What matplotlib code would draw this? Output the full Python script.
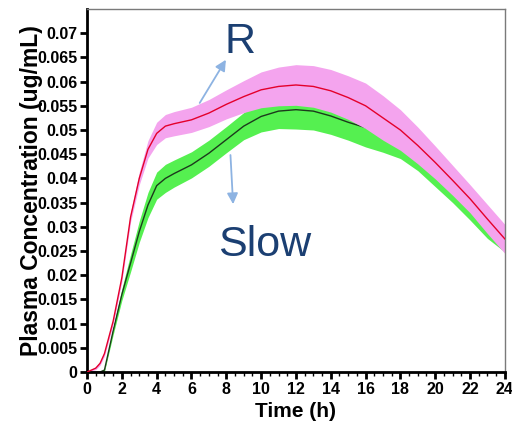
import numpy as np
import matplotlib.pyplot as plt
from matplotlib.ticker import MultipleLocator

# Mean plasma concentration (ug/mL) and band half-width
time_h = [0, 0.5, 0.75, 1, 1.5, 2, 2.5, 3, 3.5, 4, 4.5, 5, 6, 7, 8, 9, 10, 11,
          12, 13, 14, 15, 16, 17, 18, 19, 20, 21, 22, 23, 24]

r_mean = [0, 0.0008, 0.0018, 0.0038, 0.0105, 0.0195, 0.032, 0.040, 0.046, 0.0493,
          0.0508, 0.0513, 0.0521, 0.0535, 0.0553, 0.0569, 0.0583, 0.0590, 0.0593,
          0.0590, 0.0581, 0.0567, 0.0550, 0.0525, 0.0500, 0.0468, 0.0433, 0.0396,
          0.0358, 0.0316, 0.0275]
r_sd = [0, 0.0003, 0.0004, 0.0005, 0.0007, 0.0008, 0.0010, 0.0013, 0.0018, 0.0023,
        0.0024, 0.0025, 0.0026, 0.0028, 0.0030, 0.0033, 0.0037, 0.0040, 0.0042,
        0.0043, 0.0044, 0.0045, 0.0047, 0.0046, 0.0042, 0.0038, 0.0034, 0.0031,
        0.0029, 0.0030, 0.0030]

slow_mean = [0, 0, 0, 0.0004, 0.0085, 0.016, 0.0225, 0.029, 0.0345, 0.0385,
             0.0400, 0.0410, 0.0428, 0.0452, 0.0480, 0.0508, 0.0528, 0.0539, 0.0542,
             0.0539, 0.0529, 0.0516, 0.0505, 0.0494, 0.0476, 0.0451, 0.0418, 0.0382,
             0.0343, 0.0302, 0.0270]
slow_sd = [0, 0, 0, 0.0003, 0.0008, 0.0012, 0.0018, 0.0022, 0.0026, 0.0028,
           0.0029, 0.0028, 0.0027, 0.0027, 0.0027, 0.0028, 0.0032, 0.0036, 0.0040,
           0.0039, 0.0038, 0.0037, 0.0040, 0.0040, 0.0035, 0.0035, 0.0035, 0.0032,
           0.0029, 0.0026, 0.0022]

y_ticks = [0, 0.005, 0.01, 0.015, 0.02, 0.025, 0.03, 0.035, 0.04, 0.045, 0.05,
           0.055, 0.06, 0.065, 0.07]
x_ticks = list(range(0, 25, 2))

t = np.array(time_h)
rm, rs = np.array(r_mean), np.array(r_sd)
sm, ss = np.array(slow_mean), np.array(slow_sd)

plt.rcParams['font.family'] = ['Liberation Sans', 'DejaVu Sans']

fig = plt.figure(figsize=(5.12, 4.24), dpi=100)
ax = fig.add_axes([0.170, 0.1226, 0.816, 0.8562])

# slow first, R band painted over it (hides the slow mean where they overlap)
ax.fill_between(t, sm - ss, sm + ss, color='#55f050', lw=0, zorder=1)
ax.plot(t, sm, color='#1c3a1c', lw=1.0, zorder=1.5)
ax.fill_between(t, rm - rs, rm + rs, color='#f4a4ee', lw=0, zorder=2)
ax.plot(t, rm, color='#e4002b', lw=1.0, zorder=3)

ax.set_xlim(0, 24)
ax.set_ylim(0, 0.075)
ax.set_xticks(x_ticks)
ax.set_xticklabels([str(v) for v in x_ticks])
ax.xaxis.set_minor_locator(MultipleLocator(0.5))
ax.set_yticks(y_ticks)
ax.set_yticklabels(['0'] + [('%g' % v) for v in y_ticks[1:]])

for lbl in ax.get_xticklabels() + ax.get_yticklabels():
    lbl.set_fontweight('bold')
    lbl.set_fontsize(11.5)
ax.tick_params(axis='both', which='major', length=5, width=2, pad=2)
ax.tick_params(axis='x', which='minor', length=3, width=1)

ax.spines['left'].set_linewidth(2)
ax.spines['bottom'].set_linewidth(2)
for s in ['top', 'right']:
    ax.spines[s].set_color('#7a7a7a')
    ax.spines[s].set_linewidth(1)

ax.set_xlabel('Time (h)', fontsize=15, fontweight='bold', labelpad=4)
ax.set_ylabel('Plasma Concentration (ug/mL)', fontsize=16.5, fontweight='bold', labelpad=-4)

# callouts
arrow_kw = dict(arrowstyle='-|>', color='#8db3e2', lw=1.3, mutation_scale=16)
ax.annotate('', xy=(8.06, 0.0650), xytext=(6.39, 0.0551), arrowprops=arrow_kw, zorder=4)
ax.annotate('', xy=(8.4, 0.0341), xytext=(8.23, 0.0454), arrowprops=arrow_kw, zorder=4)
ax.text(8.8, 0.0682, 'R', color='#1b3f72', fontsize=31, ha='center', va='center')
ax.text(10.2, 0.0262, 'Slow', color='#1b3f72', fontsize=31, ha='center', va='center')

fig.savefig('out.png', dpi=100)
